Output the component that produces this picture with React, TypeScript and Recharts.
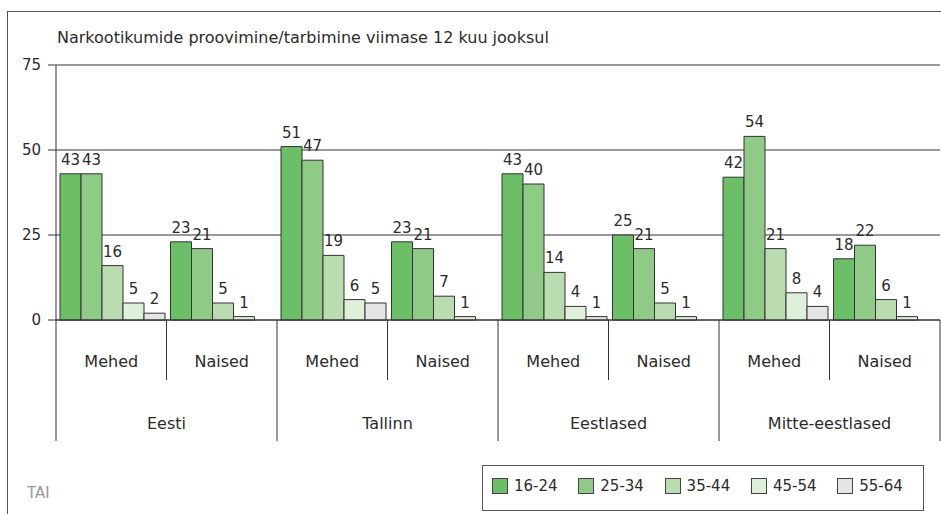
import { BarChart, Bar, XAxis, YAxis, CartesianGrid, LabelList } from "recharts";

const groups = ["Eesti", "Eesti", "Tallinn", "Tallinn", "Eestlased", "Eestlased", "Mitte-eestlased", "Mitte-eestlased"];
const genders = ["Mehed", "Naised", "Mehed", "Naised", "Mehed", "Naised", "Mehed", "Naised"];

const age1624 = [43, 23, 51, 23, 43, 25, 42, 18];
const age2534 = [43, 21, 47, 21, 40, 21, 54, 22];
const age3544 = [16, 5, 19, 7, 14, 5, 21, 6];
const age4554 = [5, 1, 6, 1, 4, 1, 8, 1];
const age5564 = [2, null, 5, null, 1, null, 4, null];

const yTicks = [0, 25, 50, 75];

const series = [
  { key: "a", name: "16-24", color: "#6dbf67", values: age1624 },
  { key: "b", name: "25-34", color: "#8fca86", values: age2534 },
  { key: "c", name: "35-44", color: "#badcb0", values: age3544 },
  { key: "d", name: "45-54", color: "#deefda", values: age4554 },
  { key: "e", name: "55-64", color: "#e4e5e7", values: age5564 },
];

const data = genders.map((g, i) => {
  const row: Record<string, string | number | null> = { sub: g, group: groups[i], id: `${groups[i]}-${g}` };
  series.forEach((s) => (row[s.key] = s.values[i]));
  return row;
});

const W = 941;
const H = 514;
const PLOT_LEFT = 56;
const PLOT_RIGHT = 940;
const BAND = (PLOT_RIGHT - PLOT_LEFT) / data.length;
const LINE = "#333";
const TEXT = "#2b2b2b";

// two-level category axis: gender under each bar group, region below
function CategoryTick(props: any) {
  const { x, y, payload } = props;
  const i = payload.index;
  const left = x - BAND / 2;
  const right = x + BAND / 2;
  const firstOfGroup = i === 0 || groups[i - 1] !== groups[i];
  const last = i === groups.length - 1;
  return (
    <g>
      <text x={x} y={y + 42} textAnchor="middle" dominantBaseline="middle" fill={TEXT} fontSize={16}>
        {genders[i]}
      </text>
      <line x1={left} x2={left} y1={y} y2={y + (firstOfGroup ? 121 : 60)} stroke={LINE} />
      {last && <line x1={right} x2={right} y1={y} y2={y + 121} stroke={LINE} />}
      {firstOfGroup && (
        <text x={right} y={y + 104} textAnchor="middle" dominantBaseline="middle" fill={TEXT} fontSize={16}>
          {groups[i]}
        </text>
      )}
    </g>
  );
}

export default function App() {
  return (
    <div
      style={{
        position: "absolute",
        left: 0,
        top: 0,
        width: W,
        height: H,
        background: "#fff",
        fontFamily: "'DejaVu Sans', sans-serif",
        color: TEXT,
        overflow: "hidden",
      }}
    >
      <div
        style={{
          position: "absolute",
          left: 7,
          top: 11,
          width: W - 7,
          height: H - 11,
          borderLeft: "1px solid #555",
          borderTop: "1px solid #555",
          boxSizing: "border-box",
        }}
      />
      <div style={{ position: "absolute", left: 57, top: 28, fontSize: 16, lineHeight: "20px", whiteSpace: "nowrap" }}>
        Narkootikumide proovimine/tarbimine viimase 12 kuu jooksul
      </div>
      <div style={{ position: "absolute", left: 0, top: 0 }}>
        <BarChart
          width={W}
          height={H}
          data={data}
          margin={{ top: 65, right: W - PLOT_RIGHT, left: 6, bottom: 0 }}
          barCategoryGap={4}
          barGap={0}
        >
          <CartesianGrid vertical={false} stroke={LINE} strokeWidth={1} />
          <XAxis
            dataKey="id"
            height={194}
            interval={0}
            tickLine={false}
            tickSize={0}
            tickMargin={0}
            axisLine={{ stroke: LINE }}
            tick={<CategoryTick />}
          />
          <YAxis
            width={50}
            domain={[0, 75]}
            ticks={yTicks}
            tickSize={8}
            tickMargin={7}
            axisLine={{ stroke: LINE }}
            tickLine={{ stroke: LINE }}
            tick={{ fill: TEXT, fontSize: 15 }}
          />
          {series.map((s) => (
            <Bar
              key={s.key}
              dataKey={s.key}
              name={s.name}
              fill={s.color}
              stroke={LINE}
              strokeWidth={1}
              isAnimationActive={false}
            >
              <LabelList dataKey={s.key} position="top" offset={9} fill={TEXT} fontSize={15} />
            </Bar>
          ))}
        </BarChart>
      </div>
      <div
        style={{
          position: "absolute",
          left: 482,
          top: 465,
          width: 442,
          height: 46,
          border: "1px solid #555",
          boxSizing: "border-box",
        }}
      >
        {series.map((s, i) => (
          <div
            key={s.key}
            style={{ position: "absolute", left: 9 + i * 86.3, top: 12, display: "flex", alignItems: "center", fontSize: 15 }}
          >
            <span
              style={{
                display: "inline-block",
                width: 16,
                height: 16,
                background: s.color,
                border: "1px solid #444",
                boxSizing: "border-box",
                marginRight: 6,
              }}
            />
            <span style={{ lineHeight: "16px" }}>{s.name}</span>
          </div>
        ))}
      </div>
      <div style={{ position: "absolute", left: 27, top: 484, fontSize: 15, color: "#999" }}>TAI</div>
    </div>
  );
}
